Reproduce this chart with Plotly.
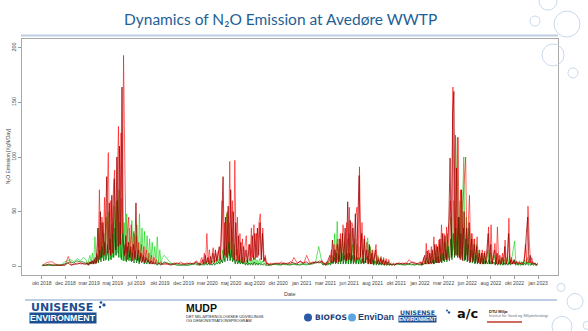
import pandas as pd
import plotly.graph_objects as go

# ---------------------------------------------------------------------------
# Data: N2O emission [kgN/day] for four measurement lines.
# Samples are grouped in periods: quiet winter periods sampled every 10 days,
# active seasons every 4 days.
# ---------------------------------------------------------------------------
PERIOD_STARTS = ["2018-10-05", "2019-02-20", "2019-10-24", "2020-02-05",
                 "2020-10-04", "2021-03-07", "2021-10-31", "2022-01-03"]
PERIOD_STEP_DAYS = [10, 4, 10, 4, 10, 4, 10, 4]

LINE_NAMES = ["Linje 1", "Linje 2", "Linje 3", "Linje 4"]
LINE_LAG_DAYS = [1, 3, 0, 2]

green_line = [
    [0.5, 1, 1, 1, 1, 1, 1, 4, 5, 6, 4, 7, 5, 8],
    [6, 2, 5, 10, 3, 12, 3, 27, 4, 20, 35, 6, 40, 8, 30, 5, 45, 10, 50, 6,
     38, 8, 55, 10, 60, 12, 70, 8, 62, 5, 40, 5, 48, 6, 35, 5, 42, 8, 30, 6,
     38, 5, 48, 8, 35, 6, 32, 5, 28, 4, 25, 4, 22, 3, 18, 3, 27, 3, 15, 2, 8],
    [10, 6, 3, 2, 2, 1, 2, 1, 2, 2, 3],
    [2, 1, 3, 1, 3, 1, 4, 2, 5, 2, 4, 2, 5, 2, 6, 3, 8, 3, 10, 4,
     15, 5, 25, 48, 8, 40, 6, 35, 5, 20, 4, 15, 3, 10, 3, 8, 2, 7, 2, 6,
     2, 7, 2, 6, 2, 8, 2, 6, 2, 7, 2, 5, 2, 3, 1, 2, 1, 2, 1],
    [2, 1, 2, 2, 1, 2, 2, 1, 2, 2, 1, 2, 3, 4, 18, 3],
    [2, 3, 1, 4, 2, 6, 2, 10, 3, 30, 4, 41, 5, 25, 4, 30, 3, 22, 3, 25,
     4, 30, 3, 20, 3, 25, 3, 20, 2, 18, 3, 15, 2, 8, 20, 26, 3, 18, 2, 15,
     2, 12, 2, 10, 2, 8, 1, 6, 1, 5, 1, 4, 1, 2, 1, 2, 1, 2],
    [2, 1, 2, 2, 1, 2, 2],
    [2, 1, 4, 1, 5, 2, 8, 2, 10, 3, 12, 3, 15, 3, 18, 4, 20, 4, 25, 5,
     22, 6, 30, 8, 35, 45, 10, 60, 12, 70, 118, 10, 60, 8, 50, 100, 6, 45, 5, 35,
     4, 30, 4, 25, 3, 20, 3, 15, 2, 12, 2, 12, 2, 8, 15, 2, 12, 2, 6, 10,
     2, 8, 2, 10, 2, 8, 1, 6, 2, 8, 2, 10, 2, 8, 15, 23, 2, 4, 1, 5,
     1, 4, 1, 6, 2, 8, 2, 4, 1, 3, 1, 3, 1, 2],
]

darkgreen_line = [
    [1, 1, 1, 1, 1, 1, 1, 2, 3, 4, 3, 5, 4, 4],
    [2, 3, 1, 4, 2, 5, 2, 6, 2, 10, 3, 15, 4, 18, 5, 22, 6, 20, 5, 25,
     6, 30, 8, 35, 10, 60, 8, 40, 6, 30, 5, 20, 4, 18, 5, 15, 4, 12, 3, 14,
     3, 10, 2, 9, 3, 8, 2, 6, 2, 5, 2, 4, 2, 3, 2, 3, 1, 2, 2, 1, 2],
    [4, 3, 2, 2, 1, 1, 1, 1, 1, 2, 2],
    [1, 2, 1, 2, 1, 2, 1, 3, 1, 3, 1, 2, 1, 3, 1, 3, 2, 4, 2, 6,
     3, 10, 4, 18, 5, 22, 5, 15, 4, 8, 2, 6, 2, 5, 2, 4, 2, 4, 1, 3,
     1, 3, 1, 3, 1, 4, 1, 3, 1, 3, 1, 2, 1, 2, 1, 1, 1, 1, 1],
    [2, 2, 1, 2, 2, 1, 2, 2, 1, 2, 2, 2, 2, 3, 4, 3],
    [1, 2, 1, 2, 1, 3, 1, 5, 2, 8, 2, 12, 2, 10, 2, 12, 2, 10, 2, 12,
     2, 12, 2, 10, 2, 10, 2, 8, 2, 8, 2, 7, 2, 5, 6, 9, 2, 7, 2, 6,
     1, 5, 1, 4, 1, 3, 1, 3, 1, 2, 1, 2, 1, 2, 1, 2, 1, 2],
    [2, 2, 1, 2, 2, 1, 2],
    [1, 2, 1, 2, 2, 3, 2, 4, 2, 5, 2, 6, 2, 8, 3, 9, 3, 10, 3, 12,
     4, 15, 4, 18, 5, 25, 6, 30, 8, 35, 10, 45, 8, 30, 6, 35, 5, 25, 4, 20,
     3, 15, 3, 12, 2, 10, 2, 8, 2, 7, 2, 6, 2, 5, 2, 6, 2, 5, 2, 4,
     1, 4, 1, 4, 1, 3, 1, 3, 1, 3, 1, 4, 1, 3, 2, 6, 1, 2, 1, 2,
     1, 2, 1, 3, 1, 4, 1, 2, 1, 2, 1, 2, 1, 1],
]

red_line = [
    [1, 3, 4, 4, 2, 1, 1, 1, 9, 1, 2, 3, 2, 3],
    [3, 1, 4, 2, 5, 2, 6, 3, 12, 4, 70, 8, 45, 10, 63, 12, 55, 104, 15, 60,
     12, 70, 88, 15, 75, 128, 20, 122, 30, 193, 93, 12, 30, 45, 8, 38, 10, 32, 6, 28,
     5, 22, 6, 20, 4, 18, 5, 15, 4, 12, 3, 10, 2, 8, 3, 6, 2, 3, 4, 2, 2],
    [3, 2, 2, 3, 2, 4, 2, 3, 2, 3, 5],
    [3, 1, 5, 8, 2, 12, 3, 30, 4, 15, 2, 10, 17, 3, 12, 4, 14, 5, 20, 60,
     8, 40, 10, 50, 12, 96, 15, 60, 8, 97, 10, 45, 5, 30, 4, 25, 3, 18, 28, 4,
     20, 5, 35, 8, 38, 6, 30, 8, 40, 48, 6, 35, 5, 10, 2, 3, 1, 3, 2],
    [3, 2, 4, 2, 3, 2, 8, 3, 4, 2, 10, 3, 4, 3, 5, 4],
    [3, 1, 4, 2, 5, 8, 15, 3, 20, 4, 18, 25, 4, 30, 5, 38, 28, 5, 40, 6,
     54, 5, 40, 35, 4, 45, 54, 6, 91, 10, 40, 4, 28, 3, 22, 3, 18, 2, 15, 2,
     12, 20, 3, 8, 2, 9, 2, 8, 2, 7, 2, 6, 2, 3, 2, 3, 1, 3],
    [2, 3, 2, 6, 3, 2, 3],
    [4, 1, 3, 8, 2, 21, 3, 15, 2, 18, 3, 27, 4, 20, 3, 24, 5, 38, 6, 30,
     8, 36, 6, 41, 60, 10, 164, 15, 120, 10, 118, 8, 70, 10, 60, 80, 100, 10, 40, 65,
     8, 30, 6, 25, 5, 27, 4, 15, 3, 15, 2, 14, 3, 8, 36, 3, 38, 3, 10, 21,
     2, 36, 3, 10, 2, 12, 2, 24, 2, 8, 44, 3, 8, 2, 6, 2, 5, 2, 4, 2,
     4, 2, 5, 20, 3, 55, 24, 3, 8, 2, 3, 1, 2, 3],
]

darkred_line = [
    [1, 1, 2, 1, 1, 1, 1, 1, 3, 1, 2, 2, 3, 2],
    [2, 3, 1, 4, 2, 5, 2, 8, 3, 35, 6, 50, 8, 40, 10, 35, 82, 12, 58, 10,
     65, 12, 80, 15, 100, 18, 110, 20, 164, 25, 10, 28, 6, 22, 8, 18, 5, 20, 8, 58,
     6, 15, 4, 12, 5, 10, 3, 8, 4, 6, 2, 5, 2, 4, 2, 3, 2, 3, 2, 2, 2],
    [2, 2, 1, 2, 3, 2, 2, 2, 3, 2, 4],
    [2, 3, 1, 4, 6, 2, 10, 3, 8, 2, 9, 3, 12, 4, 15, 5, 12, 18, 6, 40,
     82, 10, 45, 8, 55, 10, 70, 8, 50, 6, 40, 5, 28, 4, 22, 3, 18, 4, 15, 3,
     12, 20, 5, 28, 6, 30, 8, 35, 10, 40, 6, 30, 4, 8, 2, 3, 1, 2, 2],
    [2, 3, 2, 3, 2, 4, 3, 2, 5, 3, 4, 2, 3, 4, 3, 5],
    [2, 3, 1, 4, 6, 10, 3, 24, 4, 15, 3, 20, 4, 25, 5, 30, 6, 35, 5, 59,
     6, 42, 5, 35, 6, 48, 6, 60, 83, 8, 30, 3, 25, 3, 15, 2, 20, 2, 12, 2,
     10, 15, 2, 6, 2, 7, 2, 6, 1, 5, 1, 4, 1, 2, 1, 2, 1, 2],
    [3, 2, 3, 2, 4, 3, 2],
    [3, 4, 1, 5, 10, 2, 14, 2, 12, 3, 15, 2, 20, 3, 18, 3, 25, 4, 30, 5,
     28, 6, 25, 40, 99, 8, 140, 160, 10, 90, 8, 45, 6, 70, 5, 50, 6, 35, 5, 40,
     4, 25, 4, 20, 3, 18, 3, 12, 2, 12, 2, 12, 2, 15, 30, 2, 20, 2, 8, 15,
     2, 12, 2, 6, 2, 8, 2, 18, 2, 6, 30, 2, 6, 2, 5, 2, 4, 2, 3, 2,
     3, 2, 4, 12, 30, 45, 3, 10, 2, 4, 2, 3, 1, 2],
]

TICK_LABELS = ["okt 2018", "dec 2018", "mar 2019", "maj 2019", "jul 2019",
               "okt 2019", "dec 2019", "mar 2020", "maj 2020", "aug 2020",
               "okt 2020", "jan 2021", "mar 2021", "jun 2021", "aug 2021",
               "okt 2021", "jan 2022", "mar 2022", "jun 2022", "aug 2022",
               "okt 2022", "jan 2023"]
Y_TICKS = [0, 50, 100, 150, 200]
Y_LIMITS = [0, 200]

TITLE = "Dynamics of N₂O Emission at Avedøre WWTP"
Y_TITLE = "N₂O Emission [KgN/Day]"
X_TITLE = "Date"

LINE_VALUES = [green_line, red_line, darkgreen_line, darkred_line]
LINE_COLORS = ["rgba(0,210,0,0.6)", "rgba(255,0,0,0.6)",
               "rgba(0,110,0,0.75)", "rgba(160,0,0,0.75)"]


def sample_dates(lag_days, values_by_period):
    dates = []
    for start, step, vals in zip(PERIOD_STARTS, PERIOD_STEP_DAYS, values_by_period):
        first = pd.Timestamp(start) + pd.Timedelta(days=lag_days)
        dates.extend(pd.date_range(first, periods=len(vals), freq=f"{step}D"))
    return dates


fig = go.Figure()
all_dates = []
for name, vals, lag, color in zip(LINE_NAMES, LINE_VALUES, LINE_LAG_DAYS, LINE_COLORS):
    xs = sample_dates(lag, vals)
    ys = [v for period in vals for v in period]
    all_dates.extend(xs)
    fig.add_trace(go.Scatter(x=xs, y=ys, mode="lines", name=name,
                             line=dict(color=color, width=1)))

# R-style axes: 4 % padding around the data range, ticks spread evenly
first, last = min(all_dates), max(all_dates)
pad = (last - first) * 0.04
tick_dates = pd.date_range(first, last, periods=len(TICK_LABELS))
y_pad = (Y_LIMITS[1] - Y_LIMITS[0]) * 0.04

# pixel geometry of the plotting region inside the 588x331 page
L, R, T, B = 22, 558, 39, 275.5
W, H = R - L, B - T


def px(x):
    return (x - L) / W


def py(y):
    return (B - y) / H


axis_font = dict(family="Liberation Sans, Arial", size=5.5, color="#444")
fig.update_xaxes(range=[first - pad, last + pad], tickmode="array",
                 tickvals=tick_dates, ticktext=TICK_LABELS, tickangle=0,
                 ticks="outside", ticklen=3, tickcolor="#999", tickwidth=0.8,
                 showgrid=False, zeroline=False, showline=True,
                 linecolor="#a8a8a8", linewidth=1, mirror=True,
                 tickfont=dict(family="Liberation Sans, Arial", size=5,
                               color="#444"))
fig.update_yaxes(range=[Y_LIMITS[0] - y_pad, Y_LIMITS[1] + y_pad],
                 tickmode="array", tickvals=Y_TICKS, ticks="outside",
                 ticklen=3, tickcolor="#999", tickwidth=0.8, tickangle=-90,
                 showgrid=False, zeroline=False, showline=True,
                 linecolor="#a8a8a8", linewidth=1, mirror=True,
                 tickfont=axis_font)

ann = []
ann.append(dict(text=TITLE, x=px(122), y=py(19), xref="paper", yref="paper",
                showarrow=False, xanchor="left", yanchor="middle",
                font=dict(family="Lato", size=15.5, color="#1F5F96")))
ann.append(dict(text=Y_TITLE, x=px(7.5), y=py(157), xref="paper", yref="paper",
                showarrow=False, textangle=-90, xanchor="center",
                yanchor="middle", font=dict(family="Liberation Sans", size=5,
                                            color="#444")))
ann.append(dict(text=X_TITLE, x=px(290), y=py(295), xref="paper", yref="paper",
                showarrow=False, xanchor="center", yanchor="middle",
                font=axis_font))


def label(text, x, y, size, color="#000", family="Liberation Sans",
          anchor="left", bg=None):
    d = dict(text=text, x=px(x), y=py(y), xref="paper", yref="paper",
             showarrow=False, xanchor=anchor, yanchor="middle",
             font=dict(family=family, size=size, color=color))
    if bg:
        d.update(bgcolor=bg, borderpad=0)
    return d


# partner logos along the footer
ann.append(label("<b>UNISENSE</b>", 29, 308, 11, "#1D4E91", "DejaVu Sans"))
ann.append(label("<b>ENVIRONMENT</b>", 29, 318.5, 8.8, "white", "Liberation Sans",
                 bg="#1D4E91"))
ann.append(label("<b>MUDP</b>", 184, 309, 10.5, "#111", "Liberation Sans"))
ann.append(label("DET MILJØTEKNOLOGISKE UDVIKLINGS", 184, 317.5, 4, "#222"))
ann.append(label("OG DEMONSTRATIONSPROGRAM", 184, 321.5, 4, "#222"))
ann.append(label("<b>BIOFOS</b>", 313, 318, 7.5, "#1C3E78", "DejaVu Sans"))
ann.append(label("<b>EnviDan</b>", 356, 318, 9, "#1C3E78", "Liberation Sans"))
ann.append(label("<b>UNISENSE</b>", 398, 313, 6.2, "#1D4E91", "DejaVu Sans"))
ann.append(label("<b>ENVIRONMENT</b>", 398, 320, 5, "white", "Liberation Sans",
                 bg="#1D4E91"))
ann.append(label("<b>a/c</b>", 455, 314, 13, "#111", "DejaVu Sans"))
ann.append(label("<b>DTU Miljø</b>", 487, 312, 4, "#222"))
ann.append(label("Institut for Vand og Miljøteknologi", 487, 316.5, 4, "#777"))

shapes = []
# blue rules above and below the chart
shapes.append(dict(type="line", xref="paper", yref="paper", x0=px(21), x1=px(558),
                   y0=py(35.5), y1=py(35.5), line=dict(color="#BCCDE4", width=2)))
shapes.append(dict(type="line", xref="paper", yref="paper", x0=px(25), x1=px(557),
                   y0=py(300.5), y1=py(300.5), line=dict(color="#BCCDE4", width=2)))
# red underline of the DTU logo
shapes.append(dict(type="line", xref="paper", yref="paper", x0=px(487), x1=px(522),
                   y0=py(322.5), y1=py(322.5), line=dict(color="#C0392B", width=1.5)))

# decorative bubbles on the right edge
bubbles = [(548, 1, 9), (535, 21, 5), (567, 24, 13), (553, 55, 11), (573, 73, 5),
           (561, 288, 4), (575, 302, 8), (562, 327, 10), (587, 326, 4)]
for cx, cy, r in bubbles:
    shapes.append(dict(type="circle", xref="paper", yref="paper",
                       x0=px(cx - r), x1=px(cx + r), y0=py(cy + r), y1=py(cy - r),
                       line=dict(color="#C9DAEC", width=1)))

# small logo marks
marks = [(101, 303, 1.3, "#1D4E91"), (104, 305.5, 1.6, "#1D4E91"),
         (100, 307.5, 1.2, "#1D4E91"), (308, 318, 4, "#2B5AA8"),
         (352, 318, 4, "#5AA7E0"), (447, 311, 1, "#1D4E91"),
         (449, 313, 1.2, "#1D4E91")]
for cx, cy, r, col in marks:
    shapes.append(dict(type="circle", xref="paper", yref="paper",
                       x0=px(cx - r), x1=px(cx + r), y0=py(cy + r), y1=py(cy - r),
                       fillcolor=col, line=dict(width=0)))

fig.update_layout(width=588, height=331,
                  margin=dict(l=L, r=588 - R, t=T, b=331 - B),
                  paper_bgcolor="white", plot_bgcolor="white",
                  showlegend=False, annotations=ann, shapes=shapes)

fig.write_html("out.html")
